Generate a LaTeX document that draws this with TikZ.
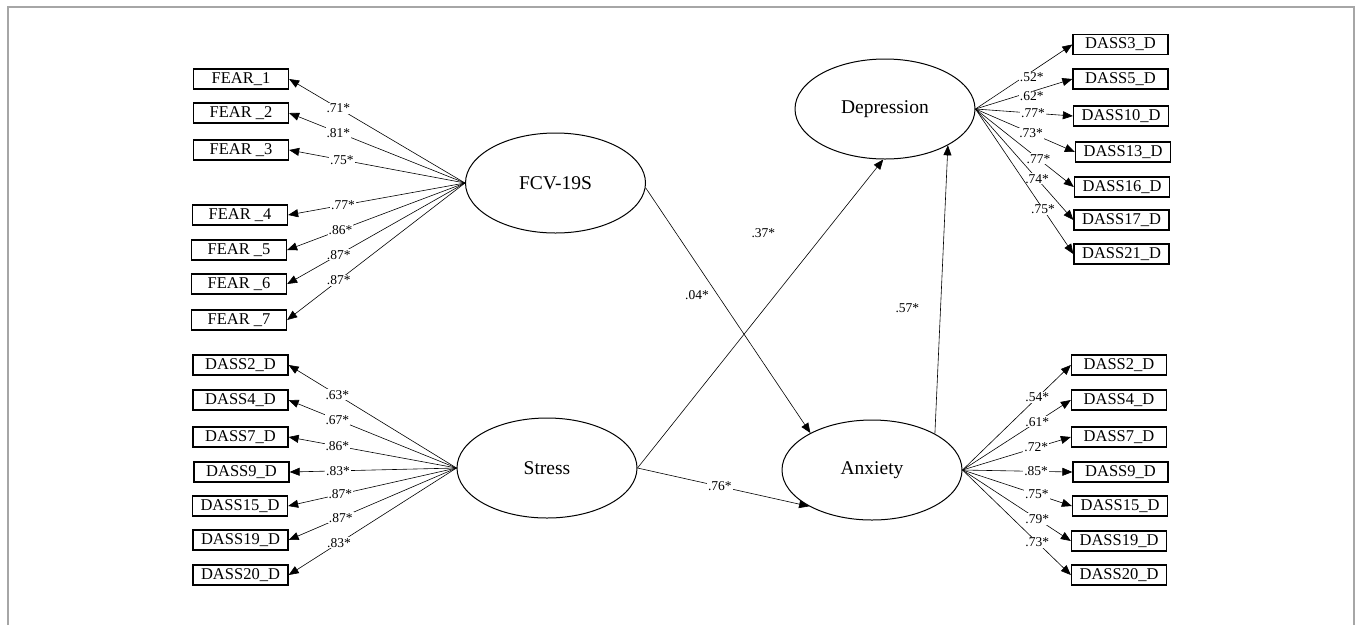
\documentclass[tikz,border=0pt]{standalone}
\usepackage{fontspec}
\setmainfont{Liberation Serif}
\usetikzlibrary{shapes.geometric,arrows.meta}
\begin{document}
\begin{tikzpicture}[x=1pt,y=-1pt,
  obs/.style={draw,line width=1.3pt,minimum width=95pt,minimum height=20pt,inner sep=0pt,font=\fontsize{16.5}{16.5}\selectfont},
  lat/.style={draw,ellipse,line width=1pt,minimum width=180pt,minimum height=100pt,inner sep=0pt,font=\fontsize{19.5}{20}\selectfont},
  conn/.style={line width=0.6pt,-{Triangle[length=10pt,width=8pt]}},
  lbl/.style={fill=white,inner sep=1pt,font=\fontsize{13.5}{14}\selectfont}
]
\useasboundingbox (0,0) rectangle (1356,625);
\draw[gray!70,line width=1.5pt] (8,625) -- (8,7) -- (1354,7) -- (1354,625);

% latent variables
\node[lat] (fcv) at (555.5,183) {FCV-19S};
\node[lat] (stress) at (547,468) {Stress};
\node[lat] (dep) at (885,109) {Depression};
\node[lat] (anx) at (872,470) {Anxiety};

% FEAR indicators
\node[obs] (f1) at (241,79) {FEAR\_1};
\node[obs] (f2) at (241,113) {FEAR \_2};
\node[obs] (f3) at (241,150) {FEAR \_3};
\node[obs] (f4) at (240,215) {FEAR \_4};
\node[obs] (f5) at (239,250) {FEAR \_5};
\node[obs] (f6) at (239,284) {FEAR \_6};
\node[obs] (f7) at (239,320) {FEAR \_7};

% Stress indicators
\node[obs] (s2) at (240.5,365) {DASS2\_D};
\node[obs] (s4) at (240.5,400) {DASS4\_D};
\node[obs] (s7) at (240.5,437) {DASS7\_D};
\node[obs] (s9) at (241.5,472) {DASS9\_D};
\node[obs] (s15) at (240,506) {DASS15\_D};
\node[obs] (s19) at (240.5,540) {DASS19\_D};
\node[obs] (s20) at (240.5,575) {DASS20\_D};

% Depression indicators
\node[obs] (d3) at (1120.5,44.5) {DASS3\_D};
\node[obs] (d5) at (1120.5,79) {DASS5\_D};
\node[obs] (d10) at (1121,116) {DASS10\_D};
\node[obs] (d13) at (1123,152) {DASS13\_D};
\node[obs] (d16) at (1122,187) {DASS16\_D};
\node[obs] (d17) at (1121.5,220) {DASS17\_D};
\node[obs] (d21) at (1121.5,254) {DASS21\_D};

% Anxiety indicators
\node[obs] (a2) at (1119,365) {DASS2\_D};
\node[obs] (a4) at (1119,400) {DASS4\_D};
\node[obs] (a7) at (1119,437) {DASS7\_D};
\node[obs] (a9) at (1120.5,472) {DASS9\_D};
\node[obs] (a15) at (1120,506) {DASS15\_D};
\node[obs] (a19) at (1119,541) {DASS19\_D};
\node[obs] (a20) at (1119,575) {DASS20\_D};

% FCV loadings
\draw[conn] (fcv.west) -- node[lbl,pos=0.72]{.71*} (f1.east);
\draw[conn] (fcv.west) -- node[lbl,pos=0.72]{.81*} (f2.east);
\draw[conn] (fcv.west) -- node[lbl,pos=0.70]{.75*} (f3.east);
\draw[conn] (fcv.west) -- node[lbl,pos=0.69]{.77*} (f4.east);
\draw[conn] (fcv.west) -- node[lbl,pos=0.70]{.86*} (f5.east);
\draw[conn] (fcv.west) -- node[lbl,pos=0.71]{.87*} (f6.east);
\draw[conn] (fcv.west) -- node[lbl,pos=0.71]{.87*} (f7.east);

% Stress loadings
\draw[conn] (stress.west) -- node[lbl,pos=0.71]{.63*} (s2.east);
\draw[conn] (stress.west) -- node[lbl,pos=0.71]{.67*} (s4.east);
\draw[conn] (stress.west) -- node[lbl,pos=0.71]{.86*} (s7.east);
\draw[conn] (stress.west) -- node[lbl,pos=0.71]{.83*} (s9.east);
\draw[conn] (stress.west) -- node[lbl,pos=0.69]{.87*} (s15.east);
\draw[conn] (stress.west) -- node[lbl,pos=0.69]{.87*} (s19.east);
\draw[conn] (stress.west) -- node[lbl,pos=0.70]{.83*} (s20.east);

% Depression loadings
\draw[conn] (dep.east) -- node[lbl,pos=0.58,yshift=-6pt]{.52*} (d3.west);
\draw[conn] (dep.east) -- node[lbl,pos=0.58,yshift=-5pt]{.62*} (d5.west);
\draw[conn] (dep.east) -- node[lbl,pos=0.59]{.77*} (d10.west);
\draw[conn] (dep.east) -- node[lbl,pos=0.56]{.73*} (d13.west);
\draw[conn] (dep.east) -- node[lbl,pos=0.64]{.77*} (d16.west);
\draw[conn] (dep.east) -- node[lbl,pos=0.63]{.74*} (d17.west);
\draw[conn] (dep.east) -- node[lbl,pos=0.69]{.75*} (d21.west);

% Anxiety loadings
\draw[conn] (anx.east) -- node[lbl,pos=0.69]{.54*} (a2.west);
\draw[conn] (anx.east) -- node[lbl,pos=0.69]{.61*} (a4.west);
\draw[conn] (anx.east) -- node[lbl,pos=0.68]{.72*} (a7.west);
\draw[conn] (anx.east) -- node[lbl,pos=0.67]{.85*} (a9.west);
\draw[conn] (anx.east) -- node[lbl,pos=0.68]{.75*} (a15.west);
\draw[conn] (anx.east) -- node[lbl,pos=0.69]{.79*} (a19.west);
\draw[conn] (anx.east) -- node[lbl,pos=0.69]{.73*} (a20.west);

% structural paths
\draw[conn] (fcv.-3) -- node[lbl,pos=0.5,xshift=-31pt,yshift=15pt]{.04*} (anx.149);
\draw[conn] (stress.east) -- node[lbl,pos=0.5,xshift=3pt,yshift=81pt]{.37*} (dep.-92);
\draw[conn] (anx.30) -- node[lbl,pos=0.5,xshift=-34pt,yshift=-19pt]{.57*} (dep.-30);
\draw[conn] (stress.east) -- node[lbl,pos=0.48]{.76*} (anx.210);
\end{tikzpicture}
\end{document}
